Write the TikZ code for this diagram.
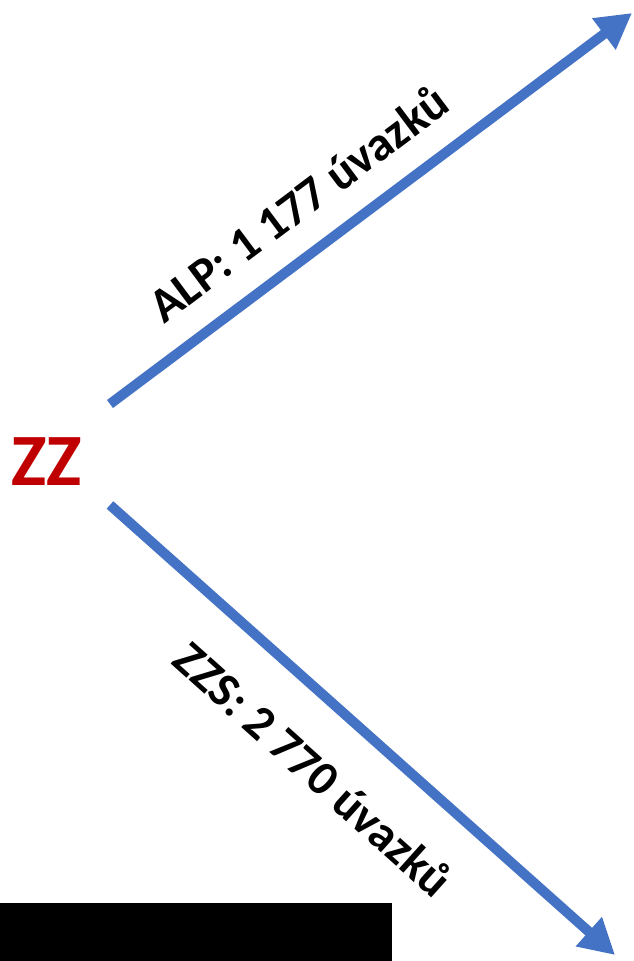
\documentclass[tikz,border=0pt]{standalone}
\usepackage{fontspec}
\setmainfont{Carlito}
\usetikzlibrary{arrows.meta}
\definecolor{arrowblue}{HTML}{4472C4}
\definecolor{zzred}{HTML}{C00000}
\begin{document}
\begin{tikzpicture}[x=0.02cm,y=-0.02cm]
	\tikzset{arr/.style={-{Triangle[length=20pt,width=21pt]},line width=5.7pt,color=arrowblue},
		lbl/.style={font=\fontsize{27.5}{31}\selectfont\bfseries,inner sep=0pt}}
	\useasboundingbox (0,0) rectangle (633,961);
	\fill[white] (0,0) rectangle (633,961);

	\node[zzred,font=\fontsize{42}{46}\selectfont\bfseries,inner sep=0pt] (zz) at (46.5,462) {ZZ};

	\coordinate (alpstart) at (110,404);
	\coordinate (alpend) at (632,13);
	\coordinate (zzsstart) at (110,505);
	\coordinate (zzsend) at (615,955);

	\draw[arr] (alpstart)--(alpend);
	\draw[arr] (zzsstart)--(zzsend);

	\node[lbl,rotate=36.8] (alp) at (298,203) {ALP: 1 177 úvazků};
	\node[lbl,rotate=-41.9] (zzs) at (314,769) {ZZS: 2 770 úvazků};

	\fill[black] (0,903) rectangle (392,961);
	\end{tikzpicture}
\end{document}
